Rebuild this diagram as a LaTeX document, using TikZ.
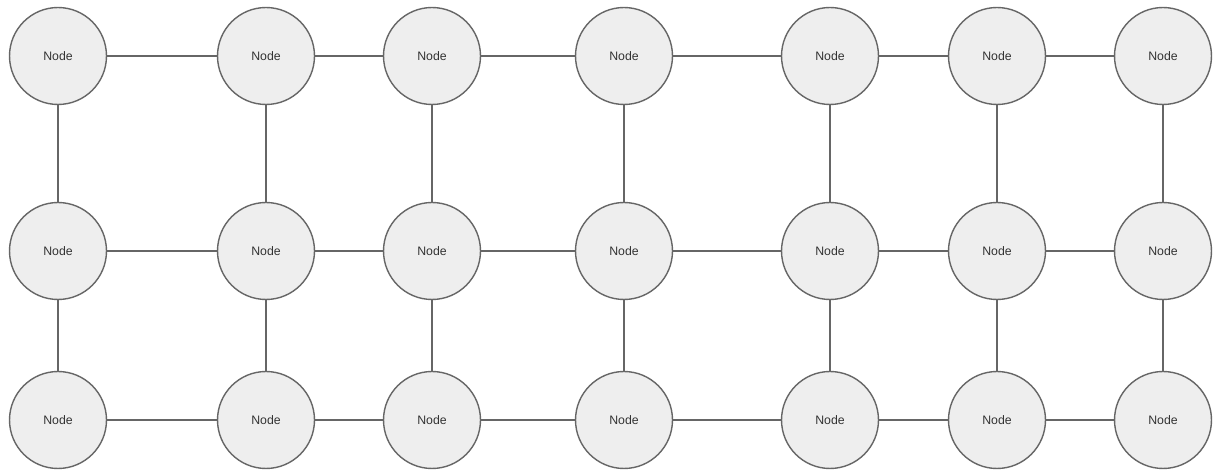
\documentclass[tikz,border=0pt]{standalone}
\usepackage{fontspec}
\setmainfont{Liberation Sans}
\usepackage{tikz}
\tikzset{every path/.style={line width=0.8pt}}
\definecolor{nodefill}{HTML}{EEEEEE}
\definecolor{nodeline}{HTML}{666666}
\definecolor{nodetext}{HTML}{333333}
\tikzset{vertex/.style={circle,draw=nodeline,fill=nodefill,minimum size=1.94cm,inner sep=0pt,text=nodetext,font=\fontsize{7}{8}\selectfont}}

\begin{document}
\begin{tikzpicture}[x=0.02cm,y=-0.02cm]
\useasboundingbox (0,0) rectangle (1214,472);
\foreach \x [count=\i] in {58,266,432,624,830,997,1163}
  \foreach \y [count=\j] in {56,251,420}
    \node[vertex] (n\i\j) at (\x,\y) {Node};

\foreach \i [count=\k from 2] in {1,...,6}
  \foreach \j in {1,2,3}
    \draw[nodeline] (n\i\j) -- (n\k\j);

\foreach \i in {1,...,7} {
  \draw[nodeline] (n\i1) -- (n\i2);
  \draw[nodeline] (n\i2) -- (n\i3);
}
\end{tikzpicture}
\end{document}
